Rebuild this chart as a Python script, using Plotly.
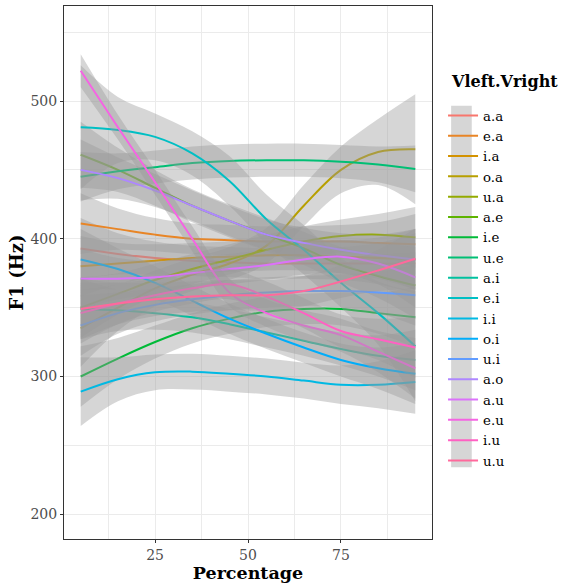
import math
import plotly.graph_objects as go

# ---------------- data ----------------
percentage = [5, 15, 25, 35, 45, 55, 65, 75, 85, 95]
groups = ["a.a", "e.a", "i.a", "o.a", "u.a", "a.e", "i.e", "u.e", "a.i",
          "e.i", "i.i", "o.i", "u.i", "a.o", "a.u", "e.u", "i.u", "u.u"]

f1_a_a = [393, 389, 386, 384, 383, 382, 382, 382, 382, 382]
f1_e_a = [411, 407, 403, 400, 399, 398, 398, 398, 397, 396]
f1_i_a = [380, 382, 384, 386, 387, 388, 388, 387, 386, 385]
f1_o_a = [335, 350, 364, 374, 382, 395, 424, 450, 463, 465]
f1_u_a = [350, 360, 370, 378, 385, 392, 398, 402, 403, 401]
f1_a_e = [461, 450, 437, 424, 413, 403, 393, 381, 373, 366]
f1_i_e = [300, 313, 325, 335, 342, 347, 349, 349, 346, 343]
f1_u_e = [445, 449, 452, 455, 456.5, 457, 457, 456, 454, 450.7]
f1_a_i = [349, 348, 346, 343, 338, 332, 326, 320, 315, 312]
f1_e_i = [481, 479, 474, 462, 442, 414, 392, 368, 346, 322]
f1_i_i = [289, 298, 303, 303.5, 302, 300, 297, 294, 294, 296]
f1_o_i = [385, 378, 368, 355, 342, 331, 321, 312, 306, 302]
f1_u_i = [337, 346, 352, 356, 359, 361, 362, 362, 361, 359]
f1_a_o = [450, 444, 435, 424, 413, 403, 397, 392, 388, 385]
f1_a_u = [371, 371, 372, 375, 378, 381, 385, 387, 382, 372]
f1_e_u = [522, 481, 441, 400, 361, 346, 337, 330, 318, 306]
f1_i_u = [346, 353, 359, 364, 367, 358, 346, 333, 327, 321]
f1_u_u = [349, 353, 356, 358, 359, 359, 362, 369, 377, 385.5]

# half-width of the confidence ribbon (Hz)
se_a_a = [22, 15, 12, 11, 11, 11, 11, 12, 15, 22]
se_e_a = [22, 15, 12, 11, 11, 11, 11, 12, 15, 22]
se_i_a = [22, 15, 12, 11, 11, 11, 11, 12, 15, 22]
se_o_a = [28, 17, 13, 12, 12, 13, 15, 17, 24, 40]
se_u_a = [22, 15, 12, 11, 11, 11, 11, 12, 15, 22]
se_a_e = [24, 16, 13, 12, 12, 12, 12, 13, 16, 24]
se_i_e = [22, 15, 12, 11, 11, 11, 11, 12, 15, 22]
se_u_e = [18, 13, 12, 12, 12, 12, 12, 12, 13, 17]
se_a_i = [22, 15, 12, 11, 11, 11, 11, 12, 15, 22]
se_e_i = [45, 24, 17, 16, 18, 18, 18, 18, 23, 40]
se_i_i = [25, 16, 13, 13, 13, 13, 13, 14, 17, 23]
se_o_i = [22, 15, 12, 11, 11, 11, 11, 12, 15, 22]
se_u_i = [22, 15, 12, 11, 11, 11, 11, 12, 15, 22]
se_a_o = [22, 15, 12, 11, 11, 11, 11, 12, 15, 22]
se_a_u = [22, 15, 12, 11, 11, 11, 11, 12, 15, 22]
se_e_u = [12, 9, 9, 9, 10, 10, 11, 12, 15, 22]
se_i_u = [22, 15, 12, 11, 11, 11, 11, 12, 15, 22]
se_u_u = [22, 15, 12, 11, 11, 11, 11, 12, 15, 22]

f1_values = [f1_a_a, f1_e_a, f1_i_a, f1_o_a, f1_u_a, f1_a_e, f1_i_e, f1_u_e, f1_a_i,
             f1_e_i, f1_i_i, f1_o_i, f1_u_i, f1_a_o, f1_a_u, f1_e_u, f1_i_u, f1_u_u]
se_values = [se_a_a, se_e_a, se_i_a, se_o_a, se_u_a, se_a_e, se_i_e, se_u_e, se_a_i,
             se_e_i, se_i_i, se_o_i, se_u_i, se_a_o, se_a_u, se_e_u, se_i_u, se_u_u]


# ---------------- ggplot hue palette ----------------
def hcl_to_hex(h, c=100.0, l=65.0):
    Xn, Yn, Zn = 95.047, 100.0, 108.883
    hr = math.radians(h)
    u = c * math.cos(hr)
    v = c * math.sin(hr)
    Y = Yn * ((l + 16) / 116) ** 3 if l > 8 else Yn * l / 903.3
    un = 4 * Xn / (Xn + 15 * Yn + 3 * Zn)
    vn = 9 * Yn / (Xn + 15 * Yn + 3 * Zn)
    up = u / (13 * l) + un
    vp = v / (13 * l) + vn
    X = Y * 9 * up / (4 * vp)
    Z = Y * (12 - 3 * up - 20 * vp) / (4 * vp)
    X, Y, Z = X / 100, Y / 100, Z / 100
    r = 3.240479 * X - 1.537150 * Y - 0.498535 * Z
    g = -0.969256 * X + 1.875992 * Y + 0.041556 * Z
    b = 0.055648 * X - 0.204043 * Y + 1.057311 * Z

    def gam(t):
        t = 12.92 * t if t <= 0.0031308 else 1.055 * t ** (1 / 2.4) - 0.055
        return max(0, min(255, int(round(t * 255))))
    return "#%02X%02X%02X" % (gam(r), gam(g), gam(b))


n = len(groups)
colors = [hcl_to_hex(15 + i * 360 / n) for i in range(n)]

FONT = "DejaVu Serif"
fig = go.Figure()

for name, yv, se, col in zip(groups, f1_values, se_values, colors):
    lower = [y - s for y, s in zip(yv, se)]
    upper = [y + s for y, s in zip(yv, se)]
    fig.add_trace(go.Scatter(x=percentage, y=lower, mode="lines",
                             line=dict(width=0, shape="spline", smoothing=1.0),
                             showlegend=False, hoverinfo="skip"))
    fig.add_trace(go.Scatter(x=percentage, y=upper, mode="lines", fill="tonexty",
                             fillcolor="rgba(153,153,153,0.4)",
                             line=dict(width=0, shape="spline", smoothing=1.0),
                             showlegend=False, hoverinfo="skip"))
    fig.add_trace(go.Scatter(x=percentage, y=yv, mode="lines", name=name,
                             line=dict(color=col, width=2, shape="spline", smoothing=1.0)))

# grey key background like ggplot's legend keys
fig.add_shape(type="rect", xref="paper", yref="paper",
              x0=1.052, x1=1.108, y0=0.1346, y1=0.813,
              fillcolor="#D6D6D6", line=dict(width=0), layer="below")

# legend title
fig.add_annotation(text="<b>Vleft.Vright</b>", xref="paper", yref="paper",
                   x=1.047, y=0.858, xanchor="left", yanchor="middle", showarrow=False,
                   font=dict(family=FONT, size=16, color="black"))

axis_common = dict(
    showgrid=True, gridcolor="#EBEBEB", gridwidth=1,
    zeroline=False, showline=True, mirror=True, linecolor="#333333", linewidth=1,
    ticks="outside", ticklen=3, tickcolor="#333333", tickwidth=1,
    tickfont=dict(family=FONT, size=14, color="#4D4D4D"),
)

fig.update_layout(
    width=580, height=583,
    margin=dict(l=64, r=148, t=5, b=43),
    paper_bgcolor="white", plot_bgcolor="white",
    font=dict(family=FONT, color="black"),
    xaxis=dict(range=[0.5, 99.5], dtick=25, tick0=0,
               minor=dict(dtick=12.5, tick0=0, showgrid=True, gridcolor="#EBEBEB", gridwidth=0.5),
               title=dict(text="Percentage", font=dict(family=FONT, size=17.5, weight="bold"),
                          standoff=3),
               **axis_common),
    yaxis=dict(range=[182, 569], dtick=100, tick0=0,
               minor=dict(dtick=50, tick0=0, showgrid=True, gridcolor="#EBEBEB", gridwidth=0.5),
               title=dict(text="F1 (Hz)", font=dict(family=FONT, size=18, weight="bold"),
                          standoff=2),
               **axis_common),
    legend=dict(
        x=1.03, y=0.823, xanchor="left", yanchor="top",
        traceorder="normal",
        bgcolor="rgba(0,0,0,0)",
        font=dict(family=FONT, size=13.3, color="black"),
        itemwidth=30, tracegroupgap=0,
    ),
)

fig.write_html("out.html")
